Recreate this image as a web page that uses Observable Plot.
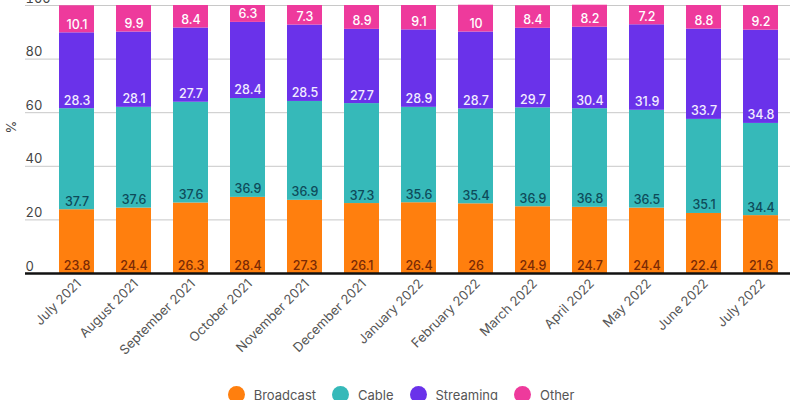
<!DOCTYPE html>
<html>
<head>
<meta charset="utf-8">
<script src="https://cdn.jsdelivr.net/npm/d3@7"></script>
<script src="https://cdn.jsdelivr.net/npm/@observablehq/plot@0.6"></script>
<style>
  body { margin: 0; background: #fff; font-family: Inter, "Noto Sans", sans-serif; }
  #chart svg { overflow: visible; }
  .legend { display: flex; justify-content: center; align-items: center; gap: 0; margin-top: 6px; font-size: 13px; color: #555; margin-left: 8px; }
  .legend .item { display: flex; align-items: center; margin: 0 8px; }
  .legend .dot { width: 17px; height: 17px; border-radius: 50%; margin-right: 9px; }
</style>
</head>
<body>
<div id="chart"></div>
<script>
const months = ["July 2021","August 2021","September 2021","October 2021","November 2021","December 2021","January 2022","February 2022","March 2022","April 2022","May 2022","June 2022","July 2022"];
const seriesNames = ["Broadcast","Cable","Streaming","Other"];
const broadcast = [23.8,24.4,26.3,28.4,27.3,26.1,26.4,26,24.9,24.7,24.4,22.4,21.6];
const cable = [37.7,37.6,37.6,36.9,36.9,37.3,35.6,35.4,36.9,36.8,36.5,35.1,34.4];
const streaming = [28.3,28.1,27.7,28.4,28.5,27.7,28.9,28.7,29.7,30.4,31.9,33.7,34.8];
const other = [10.1,9.9,8.4,6.3,7.3,8.9,9.1,10,8.4,8.2,7.2,8.8,9.2];
const yTicks = [0,20,40,60,80,100];
const barColors = ["#ff7f0e","#36b9b9","#6a32ea","#ee3a9c"];
const labelColors = ["#7a2a05","#0e4b5a","#f2ecff","#ffffff"];

const seriesValues = [broadcast, cable, streaming, other];
const data = [];
months.forEach((m, i) => seriesNames.forEach((s, j) => data.push({month: m, series: s, value: seriesValues[j][i]})));
const labelColorOf = Object.fromEntries(seriesNames.map((s, j) => [s, labelColors[j]]));

const chart = Plot.plot({
  width: 794,
  height: 380,
  marginTop: 5,
  marginBottom: 107,
  marginLeft: 25,
  marginRight: 4,
  style: {fontFamily: "Inter, 'Noto Sans', sans-serif", fontSize: "13px", color: "#444", background: "white"},
  x: {domain: months, range: [48, 789], paddingInner: 0.386, paddingOuter: 0.193, label: null},
  y: {domain: [0, 100], label: null},
  color: {domain: seriesNames, range: barColors},
  marks: [
    Plot.gridY(yTicks, {stroke: "#c8c8c8", strokeOpacity: 1, strokeWidth: 1}),
    Plot.axisY(yTicks, {anchor: "left", tickSize: 0, tickPadding: 0, textAnchor: "start", dy: -7, fill: "#444", fontSize: 13, label: null}),
    Plot.text(["%"], {frameAnchor: "left", rotate: -90, dx: -14, dy: -6, fill: "#444", fontSize: 13}),
    Plot.barY(data, Plot.stackY({x: "month", y: "value", fill: "series", order: seriesNames})),
    Plot.text(data, Plot.stackY1({x: "month", y: "value", z: "series", order: seriesNames, text: d => String(d.value), fill: {value: d => labelColorOf[d.series], scale: null}, dy: -8, fontSize: 12.5, fontWeight: 500})),
    Plot.ruleY([0], {stroke: "#111", strokeWidth: 2.5}),
    Plot.axisX({tickSize: 0, tickRotate: -45, tickPadding: 4, fill: "#555", fontSize: 13, fontWeight: 400, label: null, dx: 2, dy: 4})
  ]
});
document.getElementById("chart").appendChild(chart);

const legend = document.createElement("div");
legend.className = "legend";
seriesNames.forEach((s, j) => {
  const item = document.createElement("div");
  item.className = "item";
  const dot = document.createElement("span");
  dot.className = "dot";
  dot.style.background = barColors[j];
  const t = document.createElement("span");
  t.textContent = s;
  item.appendChild(dot); item.appendChild(t);
  legend.appendChild(item);
});
document.body.appendChild(legend);
</script>
</body>
</html>
